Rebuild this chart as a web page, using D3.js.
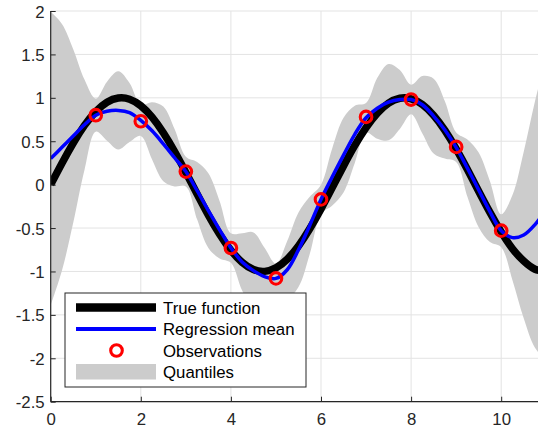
<!DOCTYPE html>
<html>
<head>
<meta charset="utf-8">
<script src="https://cdn.jsdelivr.net/npm/d3@7"></script>
<style>
  html, body { margin: 0; padding: 0; background: #fff; }
  svg { display: block; }
  text { font-family: "Liberation Sans", Arial, Helvetica, sans-serif; }
</style>
</head>
<body>
<svg id="chart" width="538" height="431"></svg>
<script>
// ---- data ----
const sampleX = [0, 0.25, 0.5, 0.75, 1, 1.25, 1.5, 1.75, 2, 2.25, 2.5, 2.75, 3, 3.25, 3.5, 3.75,
  4, 4.25, 4.5, 4.75, 5, 5.25, 5.5, 5.75, 6, 6.25, 6.5, 6.75, 7, 7.25, 7.5, 7.75,
  8, 8.25, 8.5, 8.75, 9, 9.25, 9.5, 9.75, 10, 10.25, 10.5, 10.75, 11];
const trueVals = [0, 0.247, 0.479, 0.682, 0.841, 0.949, 0.997, 0.984, 0.909, 0.778, 0.598, 0.382,
  0.141, -0.108, -0.351, -0.572, -0.757, -0.895, -0.978, -0.999, -0.959, -0.859, -0.706, -0.508,
  -0.279, -0.033, 0.215, 0.451, 0.657, 0.823, 0.938, 0.995, 0.989, 0.922, 0.798, 0.625,
  0.412, 0.174, -0.075, -0.319, -0.544, -0.738, -0.880, -0.974, -1.000];
const meanVals = [0.30, 0.43, 0.56, 0.69, 0.80, 0.845, 0.855, 0.83, 0.74, 0.62, 0.47, 0.31,
  0.15, -0.07, -0.30, -0.52, -0.73, -0.89, -0.99, -1.06, -1.08, -0.98, -0.75, -0.47,
  -0.17, 0.09, 0.34, 0.58, 0.77, 0.88, 0.95, 0.98, 0.98, 0.92, 0.79, 0.63,
  0.43, 0.19, -0.06, -0.31, -0.53, -0.61, -0.58, -0.46, -0.28];
const quantileHalfWidth = [1.69, 1.42, 1.00, 0.52, 0.19, 0.34, 0.45, 0.34, 0.18, 0.33, 0.43, 0.33,
  0.17, 0.33, 0.43, 0.33, 0.17, 0.33, 0.44, 0.33, 0.17, 0.33, 0.43, 0.33,
  0.17, 0.33, 0.43, 0.33, 0.17, 0.35, 0.44, 0.34, 0.17, 0.33, 0.43, 0.33,
  0.17, 0.33, 0.43, 0.35, 0.19, 0.49, 0.96, 1.42, 1.75];
const obsX = [1, 2, 3, 4, 5, 6, 7, 8, 9, 10];
const obsY = [0.80, 0.73, 0.15, -0.73, -1.08, -0.17, 0.78, 0.98, 0.435, -0.53];
const xTicks = [0, 2, 4, 6, 8, 10];
const yTicks = [-2.5, -2, -1.5, -1, -0.5, 0, 0.5, 1, 1.5, 2];
const legendLabels = ["True function", "Regression mean", "Observations", "Quantiles"];

// ---- layout ----
const svg = d3.select("#chart");
const pL = 50.7, pT = 11, pB = 401.7, pR = 538;
const x = d3.scaleLinear().domain([0, 12]).range([pL, pL + 45.05 * 12]);
const y = d3.scaleLinear().domain([-2.5, 2]).range([pB, pT]);
const axisColor = "#262626";

svg.append("defs").append("clipPath").attr("id", "clip")
  .append("rect").attr("x", pL).attr("y", pT).attr("width", pR - pL + 10).attr("height", pB - pT);

// grid
const grid = svg.append("g").attr("stroke", "#e3e3e3").attr("stroke-width", 1);
grid.selectAll(".gx").data(xTicks).join("line")
  .attr("x1", d => x(d)).attr("x2", d => x(d)).attr("y1", pT).attr("y2", pB);
grid.selectAll(".gy").data(yTicks).join("line")
  .attr("x1", pL).attr("x2", pR).attr("y1", d => y(d)).attr("y2", d => y(d));

const rows = sampleX.map((xv, i) => ({ x: xv, t: trueVals[i], m: meanVals[i], h: quantileHalfWidth[i] }));
const plot = svg.append("g").attr("clip-path", "url(#clip)");

plot.append("path").datum(rows)
  .attr("fill", "#cccccc")
  .attr("d", d3.area().x(d => x(d.x)).y0(d => y(d.m - d.h)).y1(d => y(d.m + d.h)).curve(d3.curveCatmullRom.alpha(0.5)));

plot.append("path").datum(rows)
  .attr("fill", "none").attr("stroke", "#000").attr("stroke-width", 7.5)
  .attr("d", d3.line().x(d => x(d.x)).y(d => y(d.t)).curve(d3.curveNatural));

plot.append("path").datum(rows)
  .attr("fill", "none").attr("stroke", "#0000ff").attr("stroke-width", 3.5)
  .attr("d", d3.line().x(d => x(d.x)).y(d => y(d.m)).curve(d3.curveCatmullRom.alpha(0.5)));

plot.selectAll(".obs").data(obsX.map((xv, i) => ({ x: xv, y: obsY[i] }))).join("circle")
  .attr("cx", d => x(d.x)).attr("cy", d => y(d.y)).attr("r", 5.8)
  .attr("fill", "none").attr("stroke", "#ff0000").attr("stroke-width", 3.1);

// axes
const xAxis = d3.axisBottom(x).tickValues(xTicks).tickSize(-5).tickPadding(10).tickFormat(d3.format("d"));
const yAxis = d3.axisLeft(y).tickValues(yTicks).tickSize(-5).tickPadding(6).tickFormat(d => String(d));

const gx = svg.append("g").attr("transform", `translate(0,${pB})`).call(xAxis);
const gy = svg.append("g").attr("transform", `translate(${pL},0)`).call(yAxis);
[gx, gy].forEach(g => {
  g.select(".domain").attr("stroke", axisColor).attr("stroke-width", 1.2);
  g.selectAll(".tick line").attr("stroke", axisColor).attr("stroke-width", 1);
  g.selectAll(".tick text").attr("fill", axisColor)
    .style("font-family", "'Liberation Sans', Arial, sans-serif").style("font-size", "16.8px");
});
gx.select(".domain").attr("d", `M${pL},0H${pR + 5}`);
gy.select(".domain").attr("d", `M0,${pT}V${pB}`);
gx.selectAll(".tick text").attr("dy", "0.71em").attr("y", 11.5);
gy.selectAll(".tick text").attr("dy", "0.36em").attr("x", -6);

// legend
const lg = svg.append("g");
lg.append("rect").attr("x", 65).attr("y", 293).attr("width", 241).attr("height", 94)
  .attr("fill", "#fff").attr("stroke", axisColor).attr("stroke-width", 1);
const rowY = [307.5, 329, 350.5, 371.5];
lg.append("line").attr("x1", 76).attr("x2", 156).attr("y1", rowY[0]).attr("y2", rowY[0])
  .attr("stroke", "#000").attr("stroke-width", 8.5);
lg.append("line").attr("x1", 76).attr("x2", 156).attr("y1", rowY[1]).attr("y2", rowY[1])
  .attr("stroke", "#0000ff").attr("stroke-width", 3.8);
lg.append("circle").attr("cx", 116.5).attr("cy", rowY[2]).attr("r", 5.8)
  .attr("fill", "none").attr("stroke", "#ff0000").attr("stroke-width", 3.1);
lg.append("rect").attr("x", 76).attr("y", rowY[3] - 7.5).attr("width", 80).attr("height", 15.5)
  .attr("fill", "#cccccc");
lg.selectAll(".lt").data(legendLabels).join("text")
  .attr("x", 163).attr("y", (d, i) => rowY[i]).attr("dy", "0.36em")
  .attr("fill", "#000").style("font-size", "16.8px").text(d => d);
</script>
</body>
</html>
